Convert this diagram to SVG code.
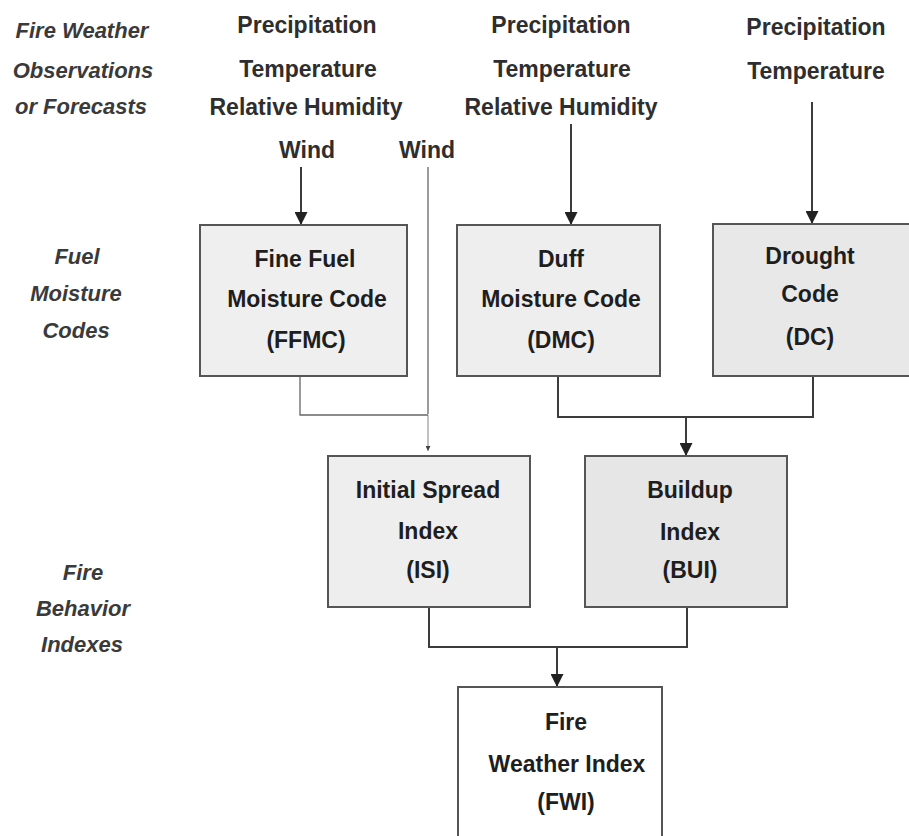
<svg xmlns="http://www.w3.org/2000/svg" width="909" height="836" viewBox="0 0 909 836">
<style>
.lbl{font-family:"Liberation Sans",Arial,sans-serif;font-size:22px;font-weight:bold;font-style:italic;fill:#3a3a3a;text-anchor:middle}
.inp{font-family:"Liberation Sans",Arial,sans-serif;font-size:23px;font-weight:bold;fill:#2e2e2e;text-anchor:middle}
.box{stroke:#555;stroke-width:2}
.bt{font-family:"Liberation Sans",Arial,sans-serif;font-size:23px;font-weight:bold;fill:#1e1e1e;text-anchor:middle}
.c{fill:none;stroke:#3c3c3c;stroke-width:2}
.ct{fill:none;stroke:#666;stroke-width:1.3}
</style>
<defs>
<marker id="ah" viewBox="0 0 10 10" refX="10" refY="5" markerWidth="14" markerHeight="13" markerUnits="userSpaceOnUse" orient="auto">
<path d="M0,0 L10,5 L0,10 z" fill="#222"/>
</marker>
<marker id="ahs" viewBox="0 0 10 10" refX="10" refY="5" markerWidth="6" markerHeight="5" markerUnits="userSpaceOnUse" orient="auto">
<path d="M0,0 L10,5 L0,10 z" fill="#444"/>
</marker>
</defs>
<rect width="909" height="836" fill="#fff"/>

<g id="labels">
<text class="lbl" x="82" y="38">Fire Weather</text>
<text class="lbl" x="83" y="78">Observations</text>
<text class="lbl" x="81" y="114">or Forecasts</text>
<text class="lbl" x="77" y="264">Fuel</text>
<text class="lbl" x="76" y="301">Moisture</text>
<text class="lbl" x="76" y="338">Codes</text>
<text class="lbl" x="83" y="580">Fire</text>
<text class="lbl" x="83" y="616">Behavior</text>
<text class="lbl" x="82" y="652">Indexes</text>
</g>

<g id="inputs">
<text class="inp" x="307" y="33">Precipitation</text>
<text class="inp" x="308" y="77">Temperature</text>
<text class="inp" x="306" y="115">Relative Humidity</text>
<text class="inp" x="307" y="158">Wind</text>
<text class="inp" x="427" y="158">Wind</text>
<text class="inp" x="561" y="33">Precipitation</text>
<text class="inp" x="562" y="77">Temperature</text>
<text class="inp" x="561" y="115">Relative Humidity</text>
<text class="inp" x="816" y="35">Precipitation</text>
<text class="inp" x="816" y="79">Temperature</text>
</g>

<g id="connectors">
<line class="c" x1="301" y1="167" x2="301" y2="225" marker-end="url(#ah)"/>
<line class="c" x1="571" y1="124" x2="571" y2="225" marker-end="url(#ah)"/>
<line class="c" x1="812" y1="102" x2="812" y2="224" marker-end="url(#ah)"/>
<polyline class="ct" points="428,167 428,414"/>
<polyline class="ct" points="300,376 300,415 428,415"/>
<line x1="428" y1="415" x2="428" y2="451" stroke="#777" stroke-width="0.9" marker-end="url(#ahs)"/>
<polyline class="c" points="558,376 558,417 813,417 813,376"/>
<line class="c" x1="686" y1="417" x2="686" y2="456" marker-end="url(#ah)"/>
<polyline class="c" points="429,607 429,647 687,647 687,607"/>
<line class="c" x1="557" y1="647" x2="557" y2="687" marker-end="url(#ah)"/>
</g>

<g id="ffmc">
<rect class="box" x="200" y="225" width="207" height="151" fill="#efefef"/>
<text class="bt" x="305" y="267">Fine Fuel</text>
<text class="bt" x="307" y="307">Moisture Code</text>
<text class="bt" x="306" y="348">(FFMC)</text>
</g>
<g id="dmc">
<rect class="box" x="457" y="225" width="203" height="151" fill="#eeeeee"/>
<text class="bt" x="561" y="267">Duff</text>
<text class="bt" x="561" y="307">Moisture Code</text>
<text class="bt" x="561" y="348">(DMC)</text>
</g>
<g id="dc">
<rect class="box" x="713" y="224" width="200" height="152" fill="#e8e8e8"/>
<text class="bt" x="810" y="264">Drought</text>
<text class="bt" x="810" y="302">Code</text>
<text class="bt" x="810" y="345">(DC)</text>
</g>
<g id="isi">
<rect class="box" x="328" y="456" width="202" height="151" fill="#eeeeee"/>
<text class="bt" x="428" y="498">Initial Spread</text>
<text class="bt" x="428" y="539">Index</text>
<text class="bt" x="428" y="578">(ISI)</text>
</g>
<g id="bui">
<rect class="box" x="585" y="456" width="202" height="151" fill="#e6e6e6"/>
<text class="bt" x="690" y="498">Buildup</text>
<text class="bt" x="690" y="540">Index</text>
<text class="bt" x="690" y="578">(BUI)</text>
</g>
<g id="fwi">
<rect class="box" x="458" y="687" width="204" height="160" fill="#ffffff"/>
<text class="bt" x="566" y="730">Fire</text>
<text class="bt" x="567" y="772">Weather Index</text>
<text class="bt" x="566" y="810">(FWI)</text>
</g>
</svg>
